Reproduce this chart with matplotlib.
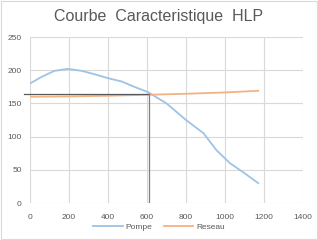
import matplotlib
matplotlib.use("Agg")
import matplotlib.pyplot as plt
from matplotlib.patches import Rectangle

# Data
pompe_x = [0, 60, 125, 195, 265, 330, 400, 470, 535, 605, 700, 800, 890, 955, 1025, 1095, 1170]
pompe_y = [180, 190, 199, 202, 199, 194, 188, 183, 175, 167, 150, 125, 105, 80, 60, 46, 30]
reseau_x = [0, 200, 400, 600, 800, 1000, 1170]
reseau_y = [160, 160.5, 161.5, 163, 164.5, 166.5, 169]
op_q = 610
op_h = 164

xticks = [0, 200, 400, 600, 800, 1000, 1200, 1400]
yticks = [0, 50, 100, 150, 200, 250]

plt.rcParams['font.family'] = ['Liberation Sans', 'DejaVu Sans']

fig = plt.figure(figsize=(3.18, 2.40), dpi=100)
ax = fig.add_axes([30/318, 1-203/240, 273/318, 166/240])

grid_c = '#d9d9d9'
for xv in xticks:
    ax.axvline(xv, color=grid_c, lw=0.8, zorder=0)
for yv in yticks:
    ax.axhline(yv, color=grid_c, lw=0.8, zorder=0)

ax.plot(pompe_x, pompe_y, color='#9dc3e6', lw=1.3, label='Pompe', zorder=3)
ax.plot(reseau_x, reseau_y, color='#f4b183', lw=1.3, label='Reseau', zorder=3)

ax.plot([-30, op_q], [op_h, op_h], color='#595959', lw=0.9, zorder=4, clip_on=False)
ax.plot([op_q, op_q], [0, op_h], color='#7f7f7f', lw=0.9, zorder=4)

ax.set_xlim(0, 1400)
ax.set_ylim(0, 250)
ax.set_xticks(xticks)
ax.set_yticks(yticks)
ax.tick_params(length=0, labelsize=6, colors='#595959', pad=8)
ax.tick_params(axis='y', pad=6)
for s in ax.spines.values():
    s.set_visible(False)

fig.text(0.5, 1-17/240, 'Courbe  Caracteristique  HLP', ha='center', va='center',
         fontsize=11.5, color='#595959')

leg = fig.legend(loc='center', bbox_to_anchor=(0.5, 1-227/240), ncol=2, frameon=False,
                 fontsize=6, handlelength=3.5, columnspacing=1.5, handletextpad=0.3,
                 borderpad=0)
for t in leg.get_texts():
    t.set_color('#595959')

fig.patches.append(Rectangle((0.003, 0.004), 0.994, 0.992, transform=fig.transFigure,
                             fill=False, edgecolor='#d9d9d9', lw=0.8))

fig.savefig('out.png', dpi=100)
